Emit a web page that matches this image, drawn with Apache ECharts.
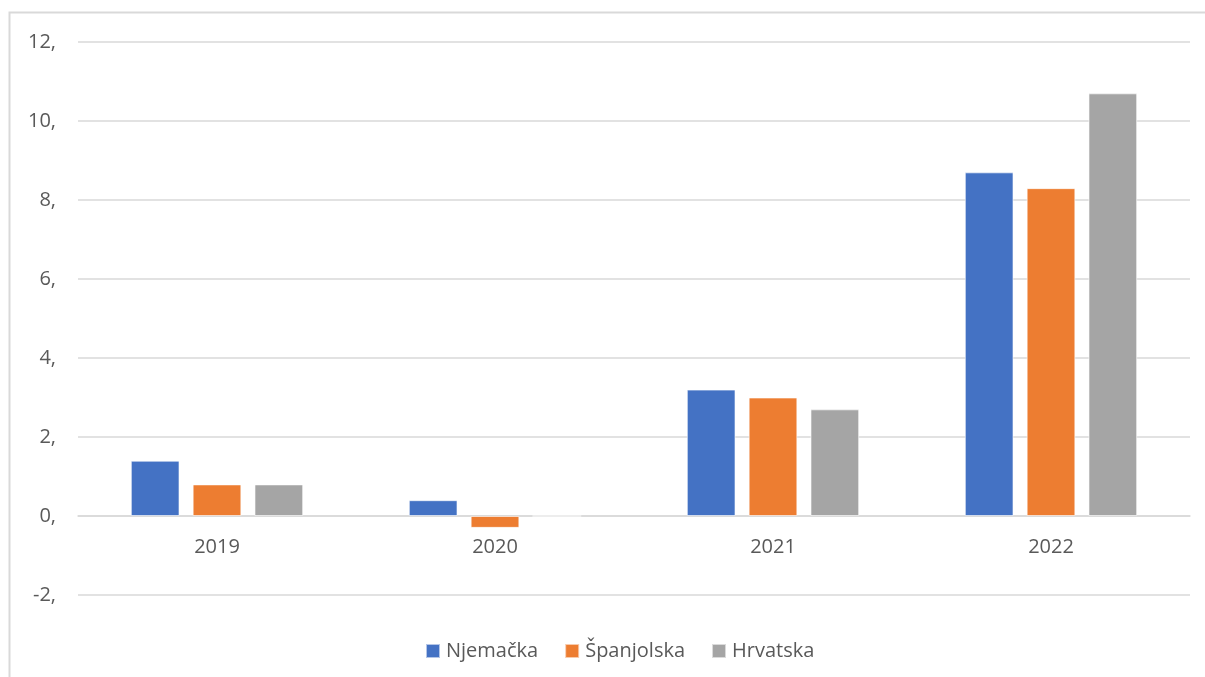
<!DOCTYPE html>
<html>
<head>
<meta charset="utf-8">
<script src="https://cdn.jsdelivr.net/npm/echarts@6/dist/echarts.min.js"></script>
<style>
  html, body { margin: 0; padding: 0; background: #fff; }
  #chart { width: 1205px; height: 677px; }
</style>
</head>
<body>
<div id="chart"></div>
<script>
// podaci
const years = ['2019', '2020', '2021', '2022']
const njemacka = [1.4, 0.4, 3.2, 8.7]
const spanjolska = [0.8, -0.3, 3.0, 8.3]
const hrvatska = [0.8, 0, 2.7, 10.7]

const colors = ['#4472c4', '#ed7d31', '#a5a5a5']
const textColor = '#595959'
const lineColor = '#d9d9d9'
const fontFamily = '"Open Sans", "Liberation Sans", sans-serif'

const chart = echarts.init(document.getElementById('chart'))

const barSeries = (name, data, i) => ({
  name,
  type: 'bar',
  data,
  barGap: '27%',
  barCategoryGap: '38%',
  itemStyle: { color: colors[i], borderColor: 'rgba(255,255,255,0.6)', borderWidth: 1 }
})

chart.setOption({
  animation: false,
  textStyle: { fontFamily },
  graphic: [{
    type: 'rect',
    shape: { x: 9.5, y: 12.5, width: 1400, height: 900 },
    style: { fill: 'none', stroke: lineColor, lineWidth: 2 },
    silent: true,
    z: -1
  }],
  grid: { left: 78, right: 15, top: 42, bottom: 82, containLabel: false },
  legend: {
    left: 420,
    top: 636,
    itemWidth: 14,
    itemHeight: 14,
    itemGap: 26,
    icon: 'rect',
    textStyle: { color: textColor, fontSize: 20, fontFamily, padding: [0, 0, 0, 1] },
    data: ['Njemačka', 'Španjolska', 'Hrvatska']
  },
  xAxis: {
    type: 'category',
    data: years,
    position: 'bottom',
    offset: -79,
    axisLine: { onZero: false, lineStyle: { color: lineColor, width: 1.5 } },
    axisTick: { show: false },
    axisLabel: { color: textColor, fontSize: 20, margin: 21, fontFamily }
  },
  yAxis: {
    type: 'value',
    min: -2,
    max: 12,
    interval: 2,
    axisLine: { show: false },
    axisTick: { show: false },
    splitLine: { lineStyle: { color: lineColor, width: 1.5 } },
    axisLabel: {
      color: textColor,
      fontSize: 20,
      margin: 22,
      fontFamily,
      formatter: v => v + ','
    }
  },
  series: [
    barSeries('Njemačka', njemacka, 0),
    barSeries('Španjolska', spanjolska, 1),
    barSeries('Hrvatska', hrvatska, 2)
  ]
})
</script>
</body>
</html>
